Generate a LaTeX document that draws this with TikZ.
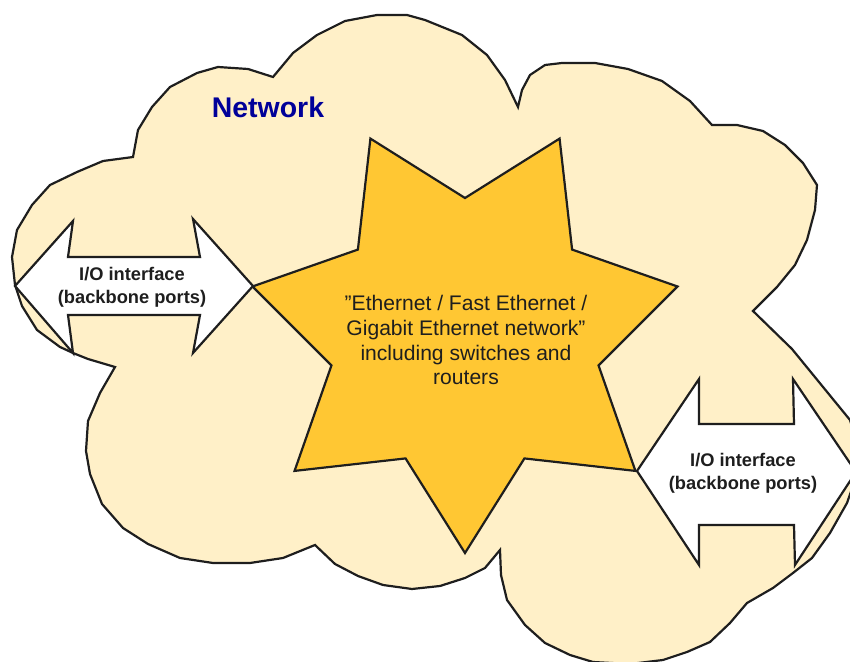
\documentclass[tikz,border=0pt]{standalone}
\usepackage{fontspec}
\setmainfont{Liberation Sans}

\definecolor{cloudfill}{HTML}{FFF0C8}
\definecolor{starfill}{HTML}{FFC733}
\definecolor{netblue}{HTML}{000099}
\definecolor{outline}{HTML}{1E1E1E}

\begin{document}
\begin{tikzpicture}[x=0.02cm, y=-0.02cm,
    shapeline/.style={draw=outline, line width=1.25pt},
    iotext/.style={align=center, text=outline, font=\fontsize{10.4}{13}\selectfont\bfseries}]
%    \draw[help lines] (0,0) grid[xstep=50,ystep=50] (850,662);
    \useasboundingbox (0,0) rectangle (850,662);
    \clip (0,0) rectangle (850,662);

    % cloud
    \draw[shapeline, fill=cloudfill] (133,157) -- (138,130) -- (152,107) -- (170,87) -- (197,73) -- (218,67) -- (248,69) -- (273,77)
      -- (293,53) -- (317,35) -- (345,21) -- (377,15) -- (407,15) -- (425,20) -- (462,35) -- (487,55) -- (505,80) -- (518,107)
      -- (522,90) -- (530,75) -- (545,65) -- (562,63) -- (595,63) -- (628,69) -- (662,81) -- (690,101) -- (712,125)
      -- (737,125) -- (763,131) -- (785,145) -- (803,163) -- (817,185) -- (815,210) -- (807,240) -- (795,265) -- (777,287) -- (753,311)
      -- (792,349) -- (850,420) -- (862,460) -- (847,503) -- (830,533) -- (812,558) -- (793,573) -- (773,588) -- (747,603)
      -- (730,623) -- (710,642) -- (687,652) -- (663,660) -- (630,664) -- (593,662) -- (570,655) -- (545,643) -- (525,625) -- (507,600) -- (501,575) -- (500,550)
      -- (485,568) -- (465,578) -- (440,586) -- (412,589) -- (383,585) -- (358,576) -- (335,564) -- (315,545)
      -- (283,558) -- (250,563) -- (213,563) -- (180,558) -- (148,544) -- (123,528) -- (102,504) -- (90,474) -- (86,451) -- (88,421) -- (100,393) -- (115,367)
      -- (88,359) -- (73,353) -- (60,347) -- (37,330) -- (22,306) -- (15,285) -- (12,257) -- (17,230) -- (32,205) -- (50,185) -- (77,172) -- (103,161) -- cycle;

    \node[font=\fontsize{16.2}{19}\selectfont\bfseries, text=netblue, anchor=base] (net) at (268,118) {Network};

    % star
    \coordinate (star) at (465,335);
    \draw[shapeline, fill=starfill] ([shift={(star)}]90:218)
      \foreach \k [evaluate=\k as \ai using 90+(2*\k-1)*180/7, evaluate=\k as \ao using 90+\k*360/7] in {1,...,6}
        { -- ([shift={(star)}]\ai:137) -- ([shift={(star)}]\ao:218) }
      -- ([shift={(star)}]424.29:137) -- cycle;

    \node[align=center, text=outline, font=\fontsize{12}{14.2}\selectfont] (eth) at (466,340)
      {”Ethernet / Fast Ethernet /\\Gigabit Ethernet network”\\including switches and\\routers};

    % I/O arrows
    \draw[shapeline, fill=white] (15,286) -- (73,221) -- (68,257) -- (200,257) -- (193,219) -- (253,286)
      -- (193,353) -- (200,315) -- (68,315) -- (73,353) -- cycle;
    \node[iotext] (ioleft) at (132,287) {I/O interface\\(backbone ports)};

    \draw[shapeline, fill=white] (637,471) -- (699,379) -- (699,424) -- (794,424) -- (793,379) -- (856,472)
      -- (795,565) -- (794,525) -- (699,525) -- (699,565) -- cycle;
    \node[iotext] (ioright) at (743,473) {I/O interface\\(backbone ports)};
\end{tikzpicture}
\end{document}
